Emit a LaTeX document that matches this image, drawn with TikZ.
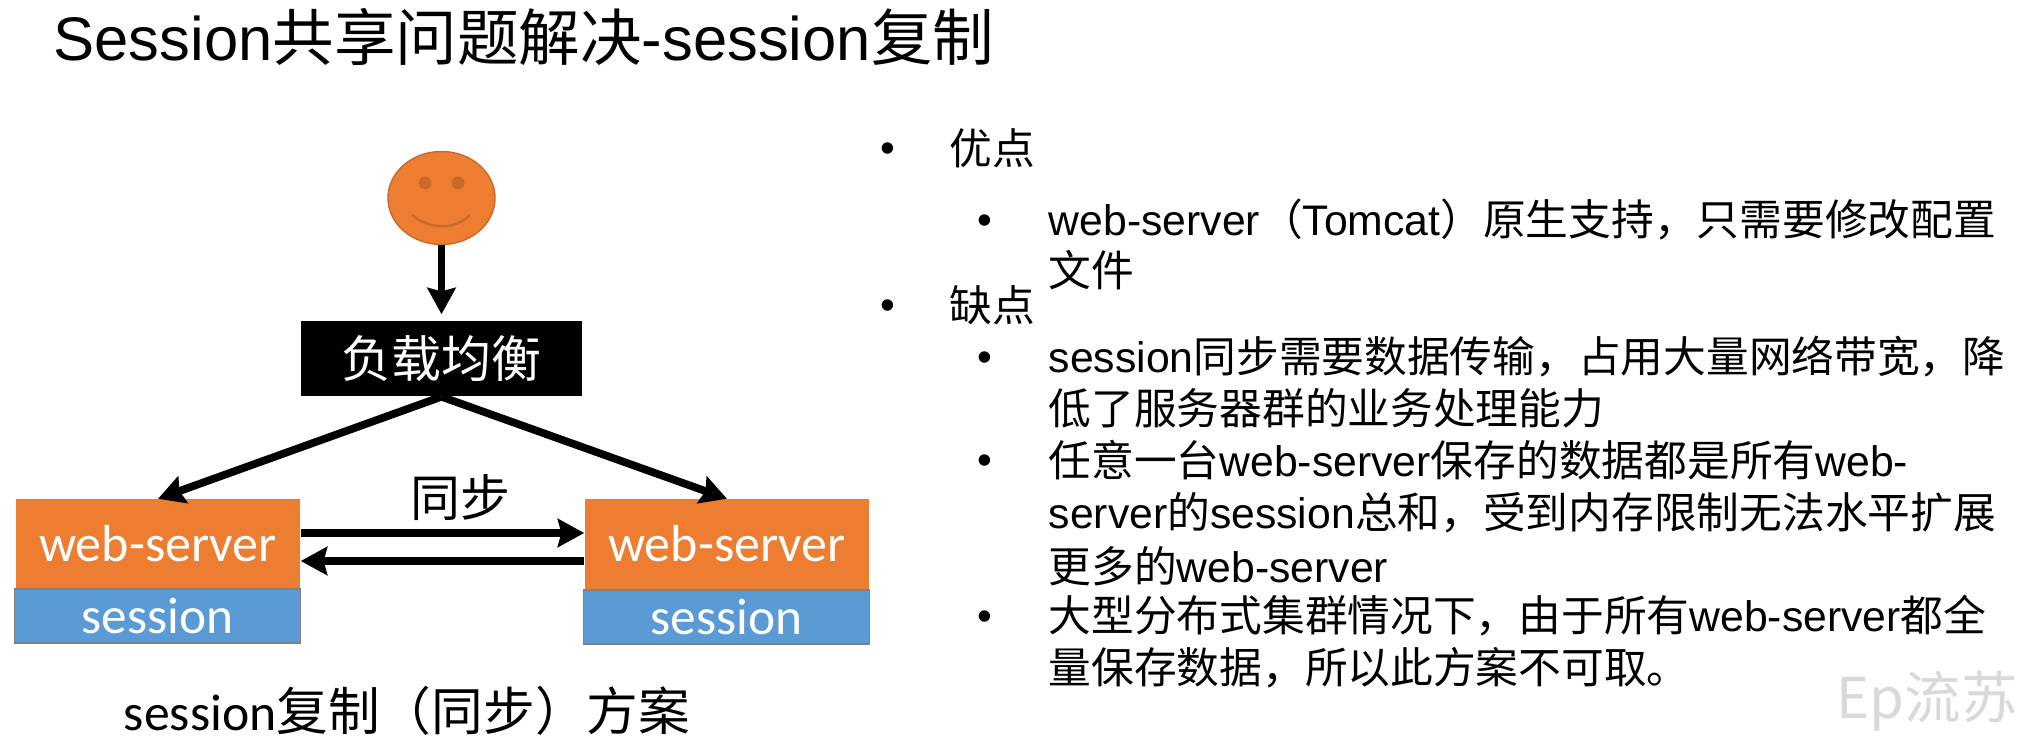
\documentclass[tikz,border=0pt]{standalone}
\usepackage{fontspec}
\setmainfont{Liberation Sans}
\newfontfamily\cjk{Noto Sans CJK SC}
\newfontfamily\boxfont{Carlito}
\newcommand{\zh}[1]{{\cjk #1}}
\usetikzlibrary{arrows.meta,shapes.geometric}
\definecolor{faceorange}{HTML}{ED7D31}
\definecolor{facedark}{HTML}{C96A28}
\definecolor{sessionblue}{HTML}{5B9BD5}
\tikzset{
  flow/.style={line width=2.2pt,-{Stealth[length=7.5pt,width=8pt,inset=1pt]}},
  webbox/.style={fill=faceorange,minimum width=2.84cm,minimum height=0.89cm,inner sep=0pt,
    text=white,font=\boxfont\fontsize{14.8}{16}\selectfont},
  sessionbox/.style={fill=sessionblue,draw=gray,line width=0.3pt,minimum width=2.85cm,minimum height=0.54cm,
    inner sep=0pt,text=white,font=\boxfont\fontsize{14.6}{16}\selectfont},
  bullet/.style={inner sep=0pt,yshift=-0.05cm,font=\fontsize{12}{14}\selectfont},
  textline/.style={anchor=west,inner sep=0pt,font=\fontsize{12.15}{14}\selectfont}
}
\begin{document}
\begin{tikzpicture}[x=0.01cm,y=-0.01cm]
  \useasboundingbox (0,0) rectangle (2023,740);
  \node[anchor=west,inner sep=0pt,font=\fontsize{17.5}{20}\selectfont] (title) at (53,37) {Session\zh{共享问题解决}-session\zh{复制}};

  % the user
  \node[ellipse,fill=faceorange,draw=facedark,line width=0.4pt,minimum width=1.07cm,minimum height=0.93cm,inner sep=0pt] (face) at (441.5,198) {};
  \fill[facedark] (425,183) circle (6.5) (458,183) circle (6.5);
  \draw[facedark,line width=0.7pt] (412,215) .. controls (430,230) and (455,230) .. (470,215);

  \node[fill=black,text=white,minimum width=2.81cm,minimum height=0.75cm,inner sep=0pt,font=\cjk\fontsize{14.2}{16}\selectfont] (lb) at (441.5,358.5) {负载均衡};

  \node[webbox] (web1) at (158,544) {web-server};
  \node[webbox] (web2) at (727,544) {web-server};
  \node[sessionbox] (session1) at (157.5,616) {session};
  \node[sessionbox] (session2) at (726.5,617) {session};

  \draw[flow] (face.south) -- ([yshift=0.06cm]lb.north);
  \draw[flow] (lb.south) -- (web1.north);
  \draw[flow] (lb.south) -- (web2.north);
  \draw[flow] ([yshift=0.11cm]web1.east) -- ([yshift=0.11cm]web2.west);
  \draw[flow] ([yshift=-0.17cm]web2.west) -- ([yshift=-0.17cm]web1.east);

  \node[inner sep=0pt,font=\cjk\fontsize{14.2}{16}\selectfont] (sync) at (460,498) {同步};
  \node[inner sep=0pt,font=\boxfont\fontsize{14.7}{16}\selectfont] (caption) at (407,711) {session\zh{复制（同步）方案}};

  % pros and cons
  \node[bullet] (b1) at (888,148) {•};
  \node[textline] (l1) at (949,148) {\zh{优点}};
  \node[bullet] (b2) at (985,220) {•};
  \node[textline] (l2) at (1048,220) {web-server\zh{（}Tomcat\zh{）原生支持，只需要修改配置}};
  \node[textline] (l3) at (1048,270) {\zh{文件}};
  \node[bullet] (b3) at (888,305) {•};
  \node[textline] (l4) at (949,305) {\zh{缺点}};
  \node[bullet] (b4) at (985,357) {•};
  \node[textline] (l5) at (1048,357) {session\zh{同步需要数据传输，占用大量网络带宽，降}};
  \node[textline] (l6) at (1048,408) {\zh{低了服务器群的业务处理能力}};
  \node[bullet] (b5) at (985,460) {•};
  \node[textline] (l7) at (1048,460) {\zh{任意一台}web-server\zh{保存的数据都是所有}web-};
  \node[textline] (l8) at (1048,513) {server\zh{的}session\zh{总和，受到内存限制无法水平扩展}};
  \node[textline] (l9) at (1048,566) {\zh{更多的}web-server};
  \node[bullet] (b6) at (985,616) {•};
  \node[textline] (l10) at (1048,616) {\zh{大型分布式集群情况下，由于所有}web-server\zh{都全}};
  \node[textline] (l11) at (1048,668) {\zh{量保存数据，所以此方案不可取。}};

  \node[anchor=east,inner sep=0pt,text=gray!30,font=\cjk\fontsize{16}{18}\selectfont] (mark) at (2018,701) {Ep流苏};
\end{tikzpicture}
\end{document}
